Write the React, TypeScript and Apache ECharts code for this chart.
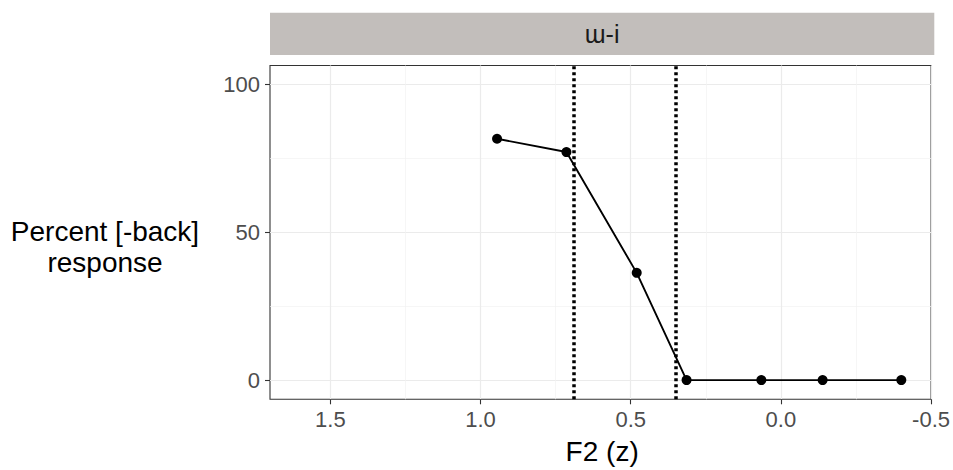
import React, { useEffect, useRef } from "react";
import * as echarts from "echarts";

const f2Values = [0.945, 0.714, 0.48, 0.314, 0.065, -0.139, -0.401];
const percentBack = [81.7, 77.2, 36.3, 0, 0, 0, 0];
const boundaryLines = [0.686, 0.355];
const xTickValues = [-0.5, 0, 0.5, 1.0, 1.5];
const yTickValues = [0, 50, 100];
const stripLabel = "ɯ-i";
const xTitle = "F2 (z)";
const yTitle = "Percent [-back]\nresponse";

const FONT = "'Liberation Sans', Arial, sans-serif";

export default function App() {
  const ref = useRef<HTMLDivElement>(null);

  useEffect(() => {
    if (!ref.current) return;
    const chart = echarts.init(ref.current, null, { renderer: "svg" });
    const gridLeft = 270;
    const gridRight = 18.7;
    const gridTop = 65.5;
    const gridBottom = 70.7;
    const W = 953;
    const panelW = W - gridLeft - gridRight;

    chart.setOption({
      animation: false,
      backgroundColor: "#ffffff",
      grid: {
        left: gridLeft,
        right: gridRight,
        top: gridTop,
        bottom: gridBottom,
        show: true,
        borderColor: "#333333",
        borderWidth: 1.1,
        backgroundColor: "#ffffff",
      },
      xAxis: {
        type: "value",
        inverse: true,
        min: -0.5,
        max: 1.701,
        interval: 0.5,
        axisLine: { show: false, onZero: false },
        axisTick: {
          show: true,
          length: 5,
          lineStyle: { color: "#333333", width: 1.1 },
          customValues: xTickValues,
        },
        axisLabel: {
          customValues: xTickValues,
          color: "#4d4d4d",
          fontSize: 22,
          fontFamily: FONT,
          margin: 9,
          formatter: (v: number) => v.toFixed(1),
        },
        splitLine: { show: true, lineStyle: { color: "#ebebeb", width: 1.2 } },
        minorTick: { show: false, splitNumber: 2 },
        minorSplitLine: { show: true, lineStyle: { color: "#f2f2f2", width: 0.7 } },
      },
      yAxis: {
        type: "value",
        min: -6.5,
        max: 106.5,
        minInterval: 50,
        maxInterval: 50,
        axisLine: { show: false, onZero: false },
        axisTick: {
          show: true,
          length: 5,
          lineStyle: { color: "#333333", width: 1.1 },
          customValues: yTickValues,
        },
        axisLabel: {
          customValues: yTickValues,
          color: "#4d4d4d",
          fontSize: 22,
          fontFamily: FONT,
          margin: 10,
        },
        splitLine: { show: true, lineStyle: { color: "#ebebeb", width: 1.2 } },
        minorTick: { show: false, splitNumber: 2 },
        minorSplitLine: { show: true, lineStyle: { color: "#f2f2f2", width: 0.7 } },
      },
      series: [
        {
          type: "line",
          data: f2Values.map((x, i) => [x, percentBack[i]]),
          symbol: "circle",
          symbolSize: 10,
          itemStyle: { color: "#000000" },
          lineStyle: { color: "#000000", width: 1.9 },
          z: 3,
          markLine: {
            silent: true,
            symbol: ["none", "none"],
            label: { show: false },
            lineStyle: { color: "#000000", width: 3.5, type: [3, 3] },
            data: boundaryLines.map((v) => ({ xAxis: v })),
            z: 4,
          },
        },
      ],
      graphic: [
        {
          type: "rect",
          shape: { x: gridLeft, y: 12.7, width: panelW, height: 42.3 },
          style: { fill: "#c2bebb" },
        },
        {
          type: "text",
          x: gridLeft + panelW / 2,
          y: 34,
          style: {
            text: stripLabel,
            fontSize: 25,
            fontFamily: FONT,
            fill: "#1a1a1a",
            align: "center",
            verticalAlign: "middle",
          },
        },
        {
          type: "text",
          x: gridLeft + panelW / 2,
          y: 451,
          style: {
            text: xTitle,
            fontSize: 28,
            fontFamily: FONT,
            fill: "#000000",
            align: "center",
            verticalAlign: "middle",
          },
        },
        {
          type: "text",
          x: 105,
          y: 247,
          style: {
            text: yTitle,
            fontSize: 28,
            lineHeight: 31,
            fontFamily: FONT,
            fill: "#000000",
            align: "center",
            verticalAlign: "middle",
          },
        },
      ],
    });

    return () => {
      chart.dispose();
    };
  }, []);

  return (
    <div
      ref={ref}
      style={{ position: "absolute", left: 0, top: 0, width: 953, height: 470 }}
    />
  );
}
